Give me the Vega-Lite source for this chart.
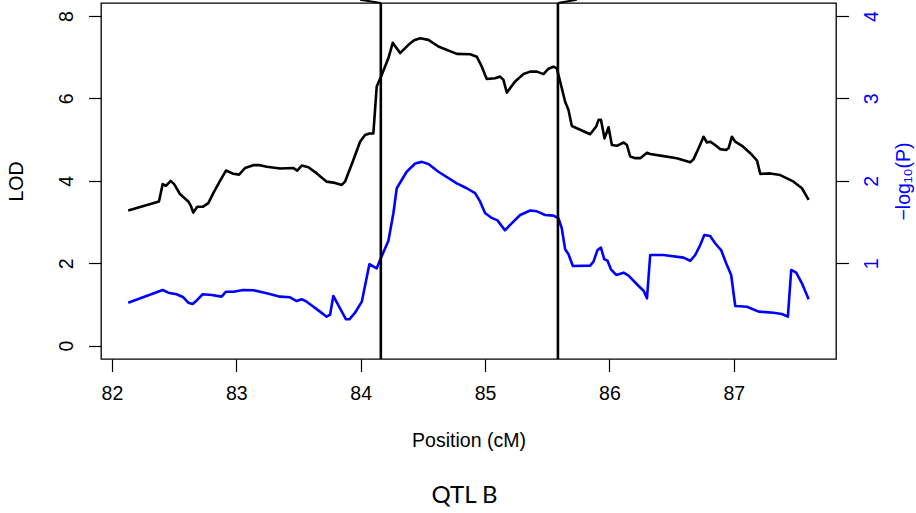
{
  "$schema": "https://vega.github.io/schema/vega-lite/v6.json",
  "width": 735,
  "height": 356,
  "autosize": {"type": "none"},
  "padding": {"left": 101, "top": 3, "right": 80, "bottom": 154},
  "background": "white",
  "config": {
    "view": {"stroke": "black", "strokeWidth": 1.3},
    "font": "Liberation Sans",
    "axis": {
      "grid": false,
      "domain": false,
      "tickColor": "black",
      "tickWidth": 1.2,
      "tickSize": 12.5,
      "labelFont": "Liberation Sans",
      "labelFontSize": 19.5,
      "labelColor": "black",
      "titleFont": "Liberation Sans",
      "titleFontSize": 19.5,
      "titleFontWeight": "normal",
      "titleColor": "black"
    }
  },
  "title": {
    "text": "QTL B",
    "orient": "bottom",
    "anchor": "middle",
    "font": "Lato",
    "fontSize": 24,
    "fontWeight": "normal",
    "color": "black",
    "offset": 34,
    "dx": -4
  },
  "datasets": {
    "lod": [
      {"pos": 82.131, "value": 3.28}, {"pos": 82.378, "value": 3.50}, {"pos": 82.408, "value": 3.92},
      {"pos": 82.434, "value": 3.88}, {"pos": 82.472, "value": 4.00}, {"pos": 82.50, "value": 3.92},
      {"pos": 82.547, "value": 3.68}, {"pos": 82.614, "value": 3.50}, {"pos": 82.633, "value": 3.40},
      {"pos": 82.654, "value": 3.23}, {"pos": 82.686, "value": 3.37}, {"pos": 82.73, "value": 3.37},
      {"pos": 82.775, "value": 3.46}, {"pos": 82.815, "value": 3.70}, {"pos": 82.869, "value": 4.00},
      {"pos": 82.917, "value": 4.25}, {"pos": 82.976, "value": 4.17}, {"pos": 83.022, "value": 4.15},
      {"pos": 83.07, "value": 4.31}, {"pos": 83.137, "value": 4.38}, {"pos": 83.19, "value": 4.38},
      {"pos": 83.245, "value": 4.34}, {"pos": 83.352, "value": 4.30}, {"pos": 83.459, "value": 4.31},
      {"pos": 83.49, "value": 4.25}, {"pos": 83.526, "value": 4.37}, {"pos": 83.58, "value": 4.33},
      {"pos": 83.647, "value": 4.18}, {"pos": 83.727, "value": 3.98}, {"pos": 83.794, "value": 3.95},
      {"pos": 83.848, "value": 3.90}, {"pos": 83.874, "value": 3.98}, {"pos": 83.942, "value": 4.51},
      {"pos": 83.995, "value": 4.95}, {"pos": 84.035, "value": 5.11}, {"pos": 84.07, "value": 5.15},
      {"pos": 84.102, "value": 5.15}, {"pos": 84.129, "value": 6.29}, {"pos": 84.169, "value": 6.57},
      {"pos": 84.223, "value": 6.98}, {"pos": 84.258, "value": 7.35}, {"pos": 84.317, "value": 7.10},
      {"pos": 84.384, "value": 7.30}, {"pos": 84.43, "value": 7.41}, {"pos": 84.478, "value": 7.46},
      {"pos": 84.545, "value": 7.42}, {"pos": 84.625, "value": 7.26}, {"pos": 84.773, "value": 7.08},
      {"pos": 84.88, "value": 7.07}, {"pos": 84.934, "value": 7.01}, {"pos": 84.974, "value": 6.77},
      {"pos": 85.014, "value": 6.47}, {"pos": 85.081, "value": 6.49}, {"pos": 85.121, "value": 6.53},
      {"pos": 85.148, "value": 6.45}, {"pos": 85.175, "value": 6.14}, {"pos": 85.242, "value": 6.41},
      {"pos": 85.309, "value": 6.59}, {"pos": 85.363, "value": 6.65}, {"pos": 85.417, "value": 6.65},
      {"pos": 85.47, "value": 6.59}, {"pos": 85.51, "value": 6.72}, {"pos": 85.55, "value": 6.77},
      {"pos": 85.577, "value": 6.73}, {"pos": 85.604, "value": 6.41}, {"pos": 85.644, "value": 5.92},
      {"pos": 85.671, "value": 5.72}, {"pos": 85.698, "value": 5.33}, {"pos": 85.845, "value": 5.13},
      {"pos": 85.894, "value": 5.32}, {"pos": 85.913, "value": 5.48}, {"pos": 85.932, "value": 5.48},
      {"pos": 85.961, "value": 5.03}, {"pos": 85.993, "value": 5.30}, {"pos": 86.02, "value": 4.87},
      {"pos": 86.06, "value": 4.85}, {"pos": 86.114, "value": 4.93}, {"pos": 86.141, "value": 4.87},
      {"pos": 86.167, "value": 4.59}, {"pos": 86.208, "value": 4.55}, {"pos": 86.248, "value": 4.55},
      {"pos": 86.302, "value": 4.68}, {"pos": 86.328, "value": 4.65}, {"pos": 86.435, "value": 4.60},
      {"pos": 86.542, "value": 4.55}, {"pos": 86.65, "value": 4.45}, {"pos": 86.676, "value": 4.52},
      {"pos": 86.717, "value": 4.79}, {"pos": 86.757, "value": 5.07}, {"pos": 86.784, "value": 4.93},
      {"pos": 86.81, "value": 4.95}, {"pos": 86.85, "value": 4.87}, {"pos": 86.89, "value": 4.77},
      {"pos": 86.939, "value": 4.75}, {"pos": 86.958, "value": 4.79}, {"pos": 86.985, "value": 5.07},
      {"pos": 87.012, "value": 4.95}, {"pos": 87.066, "value": 4.85}, {"pos": 87.133, "value": 4.67},
      {"pos": 87.187, "value": 4.49}, {"pos": 87.213, "value": 4.17}, {"pos": 87.294, "value": 4.18},
      {"pos": 87.374, "value": 4.14}, {"pos": 87.481, "value": 3.98}, {"pos": 87.548, "value": 3.82},
      {"pos": 87.602, "value": 3.54}
    ],
    "logp": [
      {"pos": 82.131, "value": 0.522}, {"pos": 82.408, "value": 0.676}, {"pos": 82.453, "value": 0.643},
      {"pos": 82.52, "value": 0.624}, {"pos": 82.574, "value": 0.587}, {"pos": 82.614, "value": 0.522},
      {"pos": 82.649, "value": 0.506}, {"pos": 82.686, "value": 0.555}, {"pos": 82.73, "value": 0.624},
      {"pos": 82.802, "value": 0.615}, {"pos": 82.882, "value": 0.595}, {"pos": 82.917, "value": 0.655},
      {"pos": 82.976, "value": 0.655}, {"pos": 83.056, "value": 0.676}, {"pos": 83.137, "value": 0.672},
      {"pos": 83.245, "value": 0.636}, {"pos": 83.352, "value": 0.595}, {"pos": 83.432, "value": 0.587},
      {"pos": 83.486, "value": 0.542}, {"pos": 83.526, "value": 0.563}, {"pos": 83.566, "value": 0.534},
      {"pos": 83.673, "value": 0.413}, {"pos": 83.727, "value": 0.352}, {"pos": 83.754, "value": 0.376},
      {"pos": 83.78, "value": 0.603}, {"pos": 83.834, "value": 0.454}, {"pos": 83.882, "value": 0.320},
      {"pos": 83.909, "value": 0.320}, {"pos": 83.955, "value": 0.40}, {"pos": 84.009, "value": 0.534},
      {"pos": 84.07, "value": 0.988}, {"pos": 84.129, "value": 0.939}, {"pos": 84.156, "value": 1.04},
      {"pos": 84.223, "value": 1.274}, {"pos": 84.263, "value": 1.607}, {"pos": 84.29, "value": 1.91},
      {"pos": 84.37, "value": 2.11}, {"pos": 84.438, "value": 2.21}, {"pos": 84.491, "value": 2.23},
      {"pos": 84.545, "value": 2.205}, {"pos": 84.625, "value": 2.11}, {"pos": 84.773, "value": 1.97},
      {"pos": 84.853, "value": 1.91}, {"pos": 84.92, "value": 1.85}, {"pos": 84.96, "value": 1.75},
      {"pos": 85.0, "value": 1.61}, {"pos": 85.054, "value": 1.55}, {"pos": 85.10, "value": 1.52},
      {"pos": 85.16, "value": 1.40}, {"pos": 85.202, "value": 1.465}, {"pos": 85.282, "value": 1.586},
      {"pos": 85.363, "value": 1.64}, {"pos": 85.417, "value": 1.63}, {"pos": 85.483, "value": 1.586},
      {"pos": 85.55, "value": 1.578}, {"pos": 85.59, "value": 1.546}, {"pos": 85.617, "value": 1.425},
      {"pos": 85.644, "value": 1.17}, {"pos": 85.671, "value": 1.11}, {"pos": 85.706, "value": 0.967},
      {"pos": 85.845, "value": 0.971}, {"pos": 85.872, "value": 1.02}, {"pos": 85.904, "value": 1.16},
      {"pos": 85.932, "value": 1.19}, {"pos": 85.958, "value": 1.05}, {"pos": 85.985, "value": 1.03},
      {"pos": 86.012, "value": 0.927}, {"pos": 86.055, "value": 0.858}, {"pos": 86.114, "value": 0.886},
      {"pos": 86.154, "value": 0.85}, {"pos": 86.235, "value": 0.724}, {"pos": 86.275, "value": 0.667},
      {"pos": 86.302, "value": 0.575}, {"pos": 86.328, "value": 1.10}, {"pos": 86.435, "value": 1.10},
      {"pos": 86.596, "value": 1.068}, {"pos": 86.65, "value": 1.03}, {"pos": 86.69, "value": 1.10},
      {"pos": 86.73, "value": 1.22}, {"pos": 86.763, "value": 1.343}, {"pos": 86.81, "value": 1.33},
      {"pos": 86.85, "value": 1.243}, {"pos": 86.898, "value": 1.16}, {"pos": 86.939, "value": 1.0},
      {"pos": 86.979, "value": 0.858}, {"pos": 87.012, "value": 0.482}, {"pos": 87.106, "value": 0.473},
      {"pos": 87.2, "value": 0.413}, {"pos": 87.32, "value": 0.40}, {"pos": 87.387, "value": 0.385},
      {"pos": 87.435, "value": 0.352}, {"pos": 87.462, "value": 0.919}, {"pos": 87.502, "value": 0.886},
      {"pos": 87.548, "value": 0.757}, {"pos": 87.602, "value": 0.563}
    ],
    "qtl": [{"pos": 84.162}, {"pos": 85.586}],
    "flare": [
      {"pos": 84.162, "pos2": 83.995, "value": 8.315, "value2": 8.395},
      {"pos": 85.586, "pos2": 85.738, "value": 8.315, "value2": 8.395}
    ]
  },
  "layer": [
    {
      "data": {"name": "lod"},
      "mark": {"type": "line", "color": "black", "strokeWidth": 2.6, "strokeJoin": "round"},
      "encoding": {
        "x": {
          "field": "pos", "type": "quantitative",
          "scale": {"domain": [81.912, 87.822], "nice": false, "zero": false},
          "axis": {"values": [82, 83, 84, 85, 86, 87], "format": "d", "title": "Position (cM)", "labelPadding": 13, "titlePadding": 28}
        },
        "y": {
          "field": "value", "type": "quantitative",
          "scale": {"domain": [-0.323, 8.315], "nice": false, "zero": false},
          "axis": {"orient": "left", "values": [0, 2, 4, 6, 8], "title": "LOD", "labelAngle": 270, "labelAlign": "center", "labelBaseline": "bottom", "labelPadding": 12, "titlePadding": 30, "titleAngle": 270}
        }
      }
    },
    {
      "data": {"name": "logp"},
      "mark": {"type": "line", "color": "#0000ff", "strokeWidth": 2.6, "strokeJoin": "round"},
      "encoding": {
        "x": {"field": "pos", "type": "quantitative"},
        "y": {
          "field": "value", "type": "quantitative",
          "scale": {"domain": [-0.1615, 4.1575], "nice": false, "zero": false},
          "axis": {"orient": "right", "values": [1, 2, 3, 4], "title": "−log₁₀(P)", "labelColor": "#0000ff", "titleColor": "#0000ff", "labelAngle": 270, "labelAlign": "center", "labelBaseline": "top", "labelPadding": 14, "titlePadding": 32, "titleAngle": 270}
        }
      }
    },
    {
      "data": {"name": "qtl"},
      "mark": {"type": "rule", "color": "black", "strokeWidth": 2.6},
      "encoding": {
        "x": {"field": "pos", "type": "quantitative"}
      }
    },
    {
      "data": {"name": "flare"},
      "mark": {"type": "rule", "color": "black", "strokeWidth": 2},
      "encoding": {
        "x": {"field": "pos", "type": "quantitative"},
        "x2": {"field": "pos2"},
        "y": {"field": "value", "type": "quantitative", "scale": {"domain": [-0.323, 8.315], "nice": false, "zero": false}, "axis": null},
        "y2": {"field": "value2"}
      }
    }
  ],
  "resolve": {"scale": {"y": "independent"}}
}
